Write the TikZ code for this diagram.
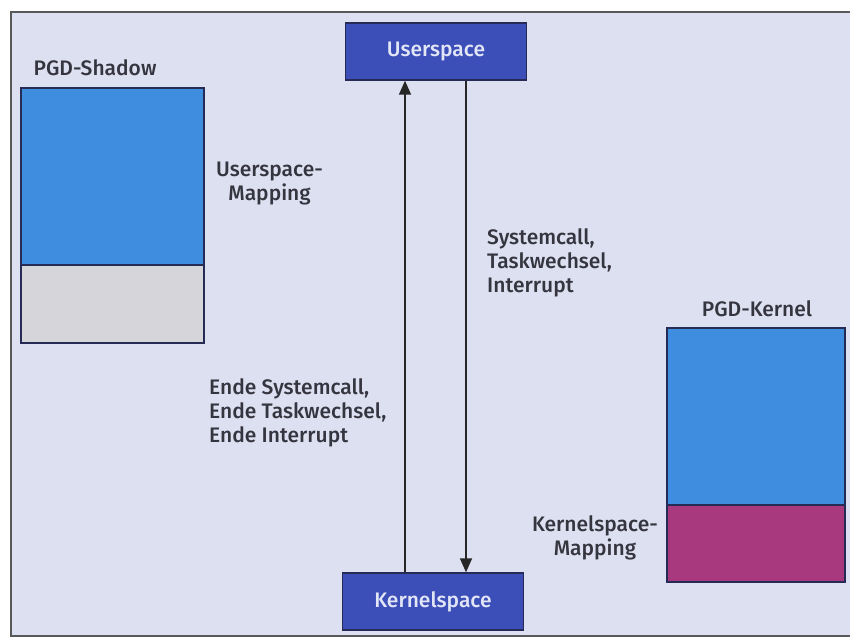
\documentclass[tikz,border=0pt]{standalone}
\usepackage{fontspec}
\setmainfont{Fira Sans}[UprightFont={* Medium}]
\usetikzlibrary{arrows.meta}
\definecolor{bgc}{HTML}{DDE0F1}
\definecolor{boxblue}{HTML}{3C4EB8}
\definecolor{lightblue}{HTML}{3E8DDE}
\definecolor{greyc}{HTML}{D5D5DA}
\definecolor{magc}{HTML}{A8397F}
\definecolor{edgec}{HTML}{252B55}
\definecolor{txtc}{HTML}{35353F}
\definecolor{wtxt}{HTML}{E2E6F6}
\tikzset{
  spacebox/.style={draw=edgec, line width=1.4pt, fill=boxblue, text=wtxt,
    minimum width=181pt, minimum height=57pt, inner sep=0pt,
    font=\fontsize{21}{24}\selectfont},
  lbl/.style={text=txtc, inner sep=0pt, font=\fontsize{21}{24}\selectfont},
  seg/.style={draw=edgec, line width=1.2pt},
  flow/.style={draw=black!85, line width=1.6pt, -{Triangle[length=14pt,width=12pt]}}
}
\begin{document}
\begin{tikzpicture}[x=1pt,y=-1pt]
\useasboundingbox (0,0) rectangle (850,642);
\fill[white] (0,0) rectangle (850,642);
\fill[bgc] (11,12) rectangle (852,636);
\draw[black!65, line width=1.2pt] (852,12) -- (11,12) -- (11,636) -- (852,636);

% PGD-Shadow
\node[lbl, anchor=base] (shl) at (95,75) {PGD-Shadow};
\path[seg, fill=lightblue] (21,88) rectangle (204,265);
\path[seg, fill=greyc] (21,265) rectangle (204,343);
\node[lbl, align=center, anchor=north west] (um) at (216,162) {Userspace-\\Mapping};

% PGD-Kernel
\node[lbl, anchor=base] (kl) at (757,316) {PGD-Kernel};
\path[seg, fill=lightblue] (667,328) rectangle (845,505);
\path[seg, fill=magc] (667,505) rectangle (845,582);
\node[lbl, align=center, anchor=north east] (km) at (658,515) {Kernelspace-\\Mapping};

% spaces
\node[spacebox] (u) at (436,51.5) {Userspace};
\node[spacebox] (k) at (433,601.5) {Kernelspace};

\draw[flow] ([xshift=-28pt]k.north) -- ([xshift=-28pt]k.north |- u.south);
\draw[flow] ([xshift=30pt]u.south) -- ([xshift=30pt]u.south |- k.north);

\node[lbl, align=left, anchor=north west] (sys) at (487,228) {Systemcall,\\Taskwechsel,\\Interrupt};
\node[lbl, align=left, anchor=north west] (ende) at (209,378) {Ende Systemcall,\\Ende Taskwechsel,\\Ende Interrupt};
\end{tikzpicture}
\end{document}
